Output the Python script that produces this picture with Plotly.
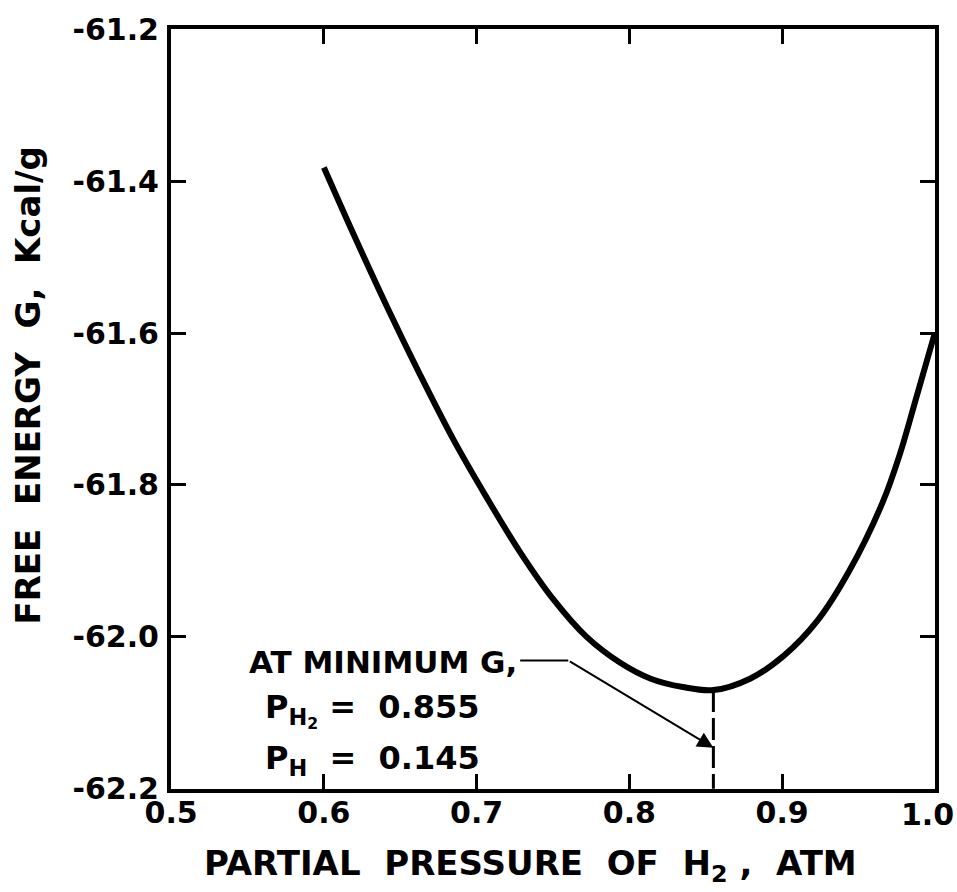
import plotly.graph_objects as go

# Data
p_h2 = [0.600, 0.619, 0.641, 0.663, 0.685, 0.707, 0.728, 0.750, 0.772, 0.794, 0.814,
        0.835, 0.855, 0.879, 0.901, 0.923, 0.944, 0.966, 0.977, 0.988, 1.000]
free_energy = [-61.382, -61.468, -61.564, -61.655, -61.741, -61.818, -61.887, -61.950,
               -62.000, -62.034, -62.055, -62.066, -62.070, -62.055, -62.025, -61.979,
               -61.913, -61.822, -61.760, -61.684, -61.600]

x_ticks = [0.5, 0.6, 0.7, 0.8, 0.9, 1.0]
x_ticklabels = ["0.5", "0.6", "0.7", "0.8", "0.9", ""]
last_x_label = "1.0"
y_ticks = [-61.2, -61.4, -61.6, -61.8, -62.0, -62.2]
y_ticklabels = ["-61.2", "-61.4", "-61.6", "-61.8", "-62.0", "-62.2"]

min_p = 0.855
min_g = -62.07
leader_y = -62.031
arrow_tip_y = -62.146

FONT = "DejaVu Sans"
INK = "#000000"

fig = go.Figure()
fig.add_trace(go.Scatter(x=p_h2, y=free_energy, mode="lines",
                         line=dict(color=INK, width=6, shape="spline", smoothing=1.0),
                         showlegend=False, hoverinfo="skip"))

# dashed vertical marker at the minimum
fig.add_shape(type="line", x0=min_p, x1=min_p, y0=min_g, y1=-62.2,
              line=dict(color=INK, width=3, dash="22px,6px"))
# horizontal leader
fig.add_shape(type="line", x0=0.7285, x1=0.760, y0=leader_y, y1=leader_y,
              line=dict(color=INK, width=2))
# diagonal leader with arrowhead
fig.add_annotation(x=min_p, y=arrow_tip_y, ax=0.760, ay=leader_y, axref="x", ayref="y",
                   xref="x", yref="y", text="", showarrow=True, arrowhead=2,
                   arrowsize=1.6, arrowwidth=2, arrowcolor=INK)

fig.add_annotation(x=0.0995, y=0.1675, xref="paper", yref="paper", text="AT MINIMUM G,",
                   showarrow=False, xanchor="left", yanchor="middle",
                   font=dict(family=FONT, size=31, color=INK, weight="bold"))
tf = dict(family=FONT, size=32, color=INK, weight="bold")
fig.add_annotation(x=0.120, y=0.136, xref="paper", yref="paper",
                   text="P<sub>H<sub>2</sub></sub> =  0.855",
                   showarrow=False, xanchor="left", yanchor="top", font=tf)
fig.add_annotation(x=0.120, y=0.068, xref="paper", yref="paper",
                   text="P<sub>H</sub>  =  0.145",
                   showarrow=False, xanchor="left", yanchor="top", font=tf)

# label of the last x tick, kept inside the page edge
fig.add_annotation(x=x_ticks[-1], y=-0.034, xref="x", yref="paper", text=last_x_label,
                   showarrow=False, xanchor="right", yanchor="middle", xshift=21,
                   font=dict(family=FONT, size=30, color=INK, weight="bold"))

# axis titles
fig.add_annotation(x=0.471, y=-0.101, xref="paper", yref="paper",
                   text="PARTIAL  PRESSURE  OF  H<sub>2</sub> ,  ATM",
                   showarrow=False, xanchor="center", yanchor="middle",
                   font=dict(family=FONT, size=34, color=INK, weight="bold"))
fig.add_annotation(x=-0.187, y=0.531, xref="paper", yref="paper",
                   text="FREE  ENERGY  G,  Kcal/g", textangle=-90,
                   showarrow=False, xanchor="center", yanchor="middle",
                   font=dict(family=FONT, size=34, color=INK, weight="bold"))

axis_common = dict(showline=True, linecolor=INK, linewidth=4, mirror="ticks",
                   ticks="inside", ticklen=15, tickwidth=3, tickcolor=INK,
                   showgrid=False, zeroline=False,
                   tickfont=dict(family=FONT, size=30, color=INK, weight="bold"))

fig.update_xaxes(range=[0.4999, 1.0001], tickvals=x_ticks, ticktext=x_ticklabels,
                 ticklabelstandoff=-6, **axis_common)
fig.update_yaxes(range=[-62.2002, -61.1998], tickvals=y_ticks, ticktext=y_ticklabels,
                 ticklabelstandoff=2, **axis_common)

fig.update_layout(width=957, height=892,
                  margin=dict(l=171, r=22, t=25, b=103),
                  plot_bgcolor="white", paper_bgcolor="white")

page_css = ("document.documentElement.style.overflow='hidden';"
            "document.body.style.margin='0';document.body.style.overflow='hidden';")
fig.write_html("out.html", post_script=page_css, config={"displayModeBar": False})
